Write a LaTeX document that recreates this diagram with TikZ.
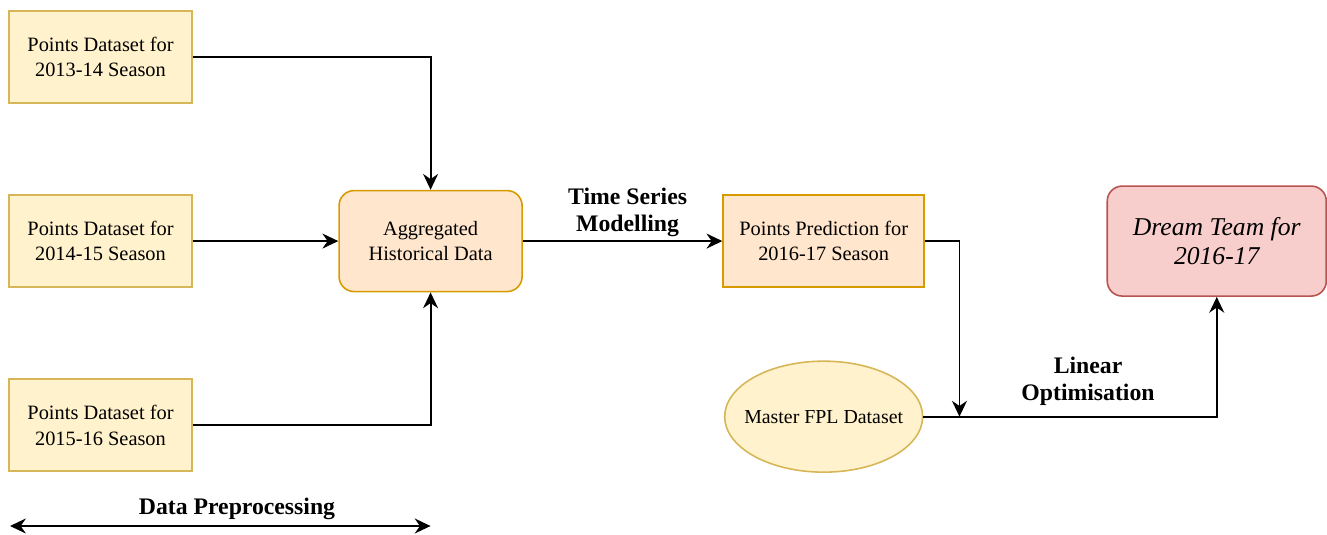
\documentclass[tikz,border=0pt]{standalone}
\usepackage{fontspec}
\setmainfont{Liberation Serif}
\usetikzlibrary{positioning,shapes.geometric,arrows.meta}

\definecolor{ylfill}{HTML}{FFF2CC}
\definecolor{yldraw}{HTML}{D6B656}
\definecolor{orfill}{HTML}{FFE6CC}
\definecolor{ordraw}{HTML}{D79B00}
\definecolor{rdfill}{HTML}{F8CECC}
\definecolor{rddraw}{HTML}{B85450}

\tikzset{
  dataset/.style={rectangle,draw=yldraw,fill=ylfill,line width=0.9pt,
    minimum width=3.66cm,minimum height=1.84cm,inner sep=0pt,align=center,
    font=\fontsize{11.6}{14.6}\selectfont},
  process/.style={dataset,draw=ordraw,fill=orfill},
  result/.style={rectangle,rounded corners=0.3cm,draw=rddraw,fill=rdfill,line width=0.9pt,
    minimum width=4.38cm,minimum height=2.2cm,inner sep=0pt,align=center,
    font=\fontsize{14.6}{16.5}\selectfont\itshape},
  lbl/.style={align=center,inner sep=0pt,font=\fontsize{13.5}{15.3}\selectfont\bfseries},
  flow/.style={line width=1.1pt,-{Stealth[length=9pt,width=8.5pt]}}
}

\begin{document}
\begin{tikzpicture}
            \useasboundingbox (0,0) rectangle (26.54,10.68);
            \node[dataset](d1) at (2.01,9.54){Points Dataset for\\2013-14 Season};
            \node[dataset](d2)[below =1.81cm of d1]{Points Dataset for\\2014-15 Season};
            \node[dataset](d3)[below =1.81cm of d2]{Points Dataset for\\2015-16 Season};
            \node[process,rounded corners=0.3cm,minimum height=2.02cm](agg)[right =2.91cm of d2]{Aggregated\\Historical Data};
            \node[process,minimum width=4.02cm](pred)[right =3.99cm of agg]{Points Prediction for\\2016-17 Season};
            \node[result](dream)[right =3.63cm of pred]{Dream Team for\\2016-17};
            \node[ellipse,draw=yldraw,fill=ylfill,line width=0.9pt,minimum width=3.96cm,
                  minimum height=2.22cm,inner xsep=-6mm,inner ysep=0pt,font=\fontsize{11.3}{14.5}\selectfont]
                  (master)[below =1.45cm of pred]{Master FPL Dataset};
            \coordinate[right =0.72cm of master.east](jn);
            \node[lbl](lopt) at (21.76,3.06){Linear\\Optimisation};
            \coordinate(pp1) at (0.2,0.16);
            \coordinate(pp2) at (agg |- pp1);
            \node[lbl](prep) at (4.74,0.5){Data Preprocessing};
            \draw[flow](d1.east) -| (agg.north);
            \draw[flow](d2) -- (agg);
            \draw[flow](d3.east) -| (agg.south);
            \draw[flow](agg) -- node[lbl,above=2pt,xshift=0.1cm](tsm){Time Series\\Modelling} (pred);
            \draw[flow](pred.east) -| (jn);
            \draw[flow](master.east) -| (dream.south);
            \draw[line width=1.1pt,{Stealth[length=9pt,width=8.5pt]}-{Stealth[length=9pt,width=8.5pt]}](pp1) -- (pp2);
        \end{tikzpicture}
\end{document}
